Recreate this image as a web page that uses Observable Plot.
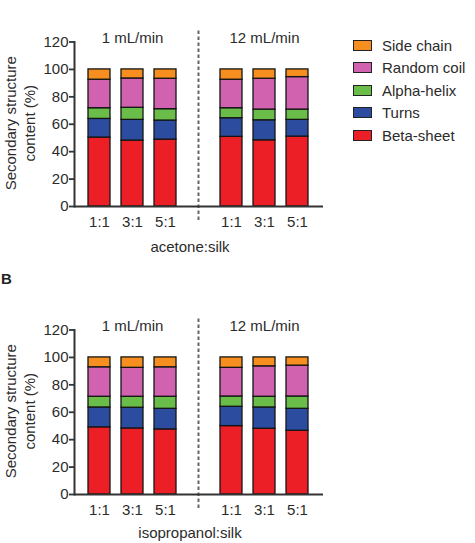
<!DOCTYPE html>
<html>
<head>
<meta charset="utf-8">
<script src="https://cdn.jsdelivr.net/npm/d3@7"></script>
<script src="https://cdn.jsdelivr.net/npm/@observablehq/plot@0.6"></script>
<style>
  html, body { margin: 0; padding: 0; background: #fff; }
  #chart { position: relative; width: 475px; height: 543px; overflow: hidden; background: #fff;
           font-family: "Liberation Sans", Arial, Helvetica, sans-serif; color: #2b2b2b; }
  .panel { position: absolute; left: 0; }
  .panel svg { overflow: visible; }
  #legend { position: absolute; left: 353px; top: 34px; font-size: 15px; }
  #legend .row { display: flex; align-items: center; height: 22.5px; }
  #legend .sw { width: 19px; height: 11px; box-sizing: border-box; border: 1.5px solid #222; margin-right: 10px; }
  #tag { position: absolute; left: 1px; top: 270px; font-weight: bold; font-size: 15px; color: #222; }
</style>
</head>
<body>
<div id="chart"></div>
<script>
// Categories
const ratios = ["1:1", "3:1", "5:1"];
const flowRates = ["1 mL/min", "12 mL/min"];
const structures = ["Beta-sheet", "Turns", "Alpha-helix", "Random coil", "Side chain"];
const structureColors = ["#ec1f26", "#2c4d9f", "#69bd48", "#d062b0", "#f68f1f"];
const yTicks = [0, 20, 40, 60, 80, 100, 120];
const yLabel = "Secondary structure\ncontent (%)";

// Secondary structure content (%) per bar: 1 mL/min (1:1, 3:1, 5:1), then 12 mL/min (1:1, 3:1, 5:1)
const acetoneBeta   = [50.3, 48.1, 48.8, 50.8, 48.3, 51.0];
const acetoneTurns  = [13.6, 15.1, 13.9, 13.6, 14.6, 12.2];
const acetoneAlpha  = [7.8, 8.8, 8.3, 7.3, 7.8, 7.5];
const acetoneRandom = [20.8, 21.4, 22.2, 20.8, 22.5, 23.7];
const acetoneSide   = [7.5, 6.6, 6.8, 7.5, 6.8, 5.6];

const isoBeta   = [49.0, 48.2, 47.5, 49.9, 48.0, 46.5];
const isoTurns  = [14.5, 15.1, 15.0, 14.1, 15.5, 16.0];
const isoAlpha  = [7.8, 8.0, 8.8, 7.5, 7.8, 9.0];
const isoRandom = [21.5, 21.1, 21.5, 20.9, 22.2, 22.5];
const isoSide   = [7.2, 7.6, 7.2, 7.6, 6.5, 6.0];

// Band domain: three ratios per flow rate with an empty slot between the groups
const gapKey = "gap";
const xDomain = [
  ...ratios.map(r => flowRates[0] + "|" + r),
  gapKey,
  ...ratios.map(r => flowRates[1] + "|" + r)
];

function panel(series, xLabel, height, labelDy) {
  const rows = [];
  flowRates.forEach((f, fi) => ratios.forEach((r, ri) => structures.forEach((s, si) => {
    rows.push({bar: f + "|" + r, structure: s, value: series[si][fi * 3 + ri]});
  })));
  return Plot.plot({
    width: 475,
    height,
    marginTop: 41.5,
    marginBottom: height - 206,
    marginLeft: 74,
    marginRight: 152,
    style: {fontFamily: "'Liberation Sans', Arial, sans-serif", fontSize: "15px", color: "#2b2b2b", background: "transparent"},
    x: {domain: xDomain, paddingInner: 0.32, paddingOuter: 0.354},
    y: {domain: [0, 120]},
    color: {domain: structures, range: structureColors},
    marks: [
      Plot.barY(rows, {x: "bar", y: "value", fill: "structure", stroke: "#151515", strokeWidth: 1.3}),
      Plot.ruleX([gapKey], {stroke: "#666", strokeWidth: 2, strokeDasharray: "3.5,2.5", insetTop: -11, insetBottom: -14}),
      Plot.axisY({ticks: yTicks, tickSize: 5, tickPadding: 1, label: null, strokeWidth: 1.8, stroke: "#333"}),
      Plot.axisX({tickSize: 0, tickPadding: 10, label: null, tickFormat: d => d === gapKey ? "" : d.split("|")[1]}),
      Plot.ruleY([0], {stroke: "#333", strokeWidth: 2}),
      Plot.frame({anchor: "left", stroke: "#333", strokeWidth: 2}),
      Plot.text(flowRates, {x: f => f + "|" + ratios[1], text: d => d, frameAnchor: "top", dy: -10}),
      Plot.text([xLabel], {text: d => d, frameAnchor: "bottom", dy: labelDy, dx: -9}),
      Plot.text([yLabel], {text: d => d, frameAnchor: "left", textAnchor: "middle", lineAnchor: "middle",
                           dx: -55, dy: -1, rotate: -90, lineHeight: 1.3})
    ]
  });
}

const chart = document.getElementById("chart");

const topPanel = document.createElement("div");
topPanel.className = "panel";
topPanel.style.top = "0px";
topPanel.append(panel([acetoneBeta, acetoneTurns, acetoneAlpha, acetoneRandom, acetoneSide], "acetone:silk", 288, 45));
chart.append(topPanel);

const bottomPanel = document.createElement("div");
bottomPanel.className = "panel";
bottomPanel.style.top = "288px";
bottomPanel.append(panel([isoBeta, isoTurns, isoAlpha, isoRandom, isoSide], "isopropanol:silk", 255, 43));
chart.append(bottomPanel);

const tag = document.createElement("div");
tag.id = "tag";
tag.textContent = "B";
chart.append(tag);

// Legend, top entry first
const legend = document.createElement("div");
legend.id = "legend";
structures.map((s, i) => [s, structureColors[i]]).reverse().forEach(([s, c]) => {
  const row = document.createElement("div");
  row.className = "row";
  const sw = document.createElement("span");
  sw.className = "sw";
  sw.style.background = c;
  const label = document.createElement("span");
  label.textContent = s;
  row.append(sw, label);
  legend.append(row);
});
chart.append(legend);
</script>
</body>
</html>
